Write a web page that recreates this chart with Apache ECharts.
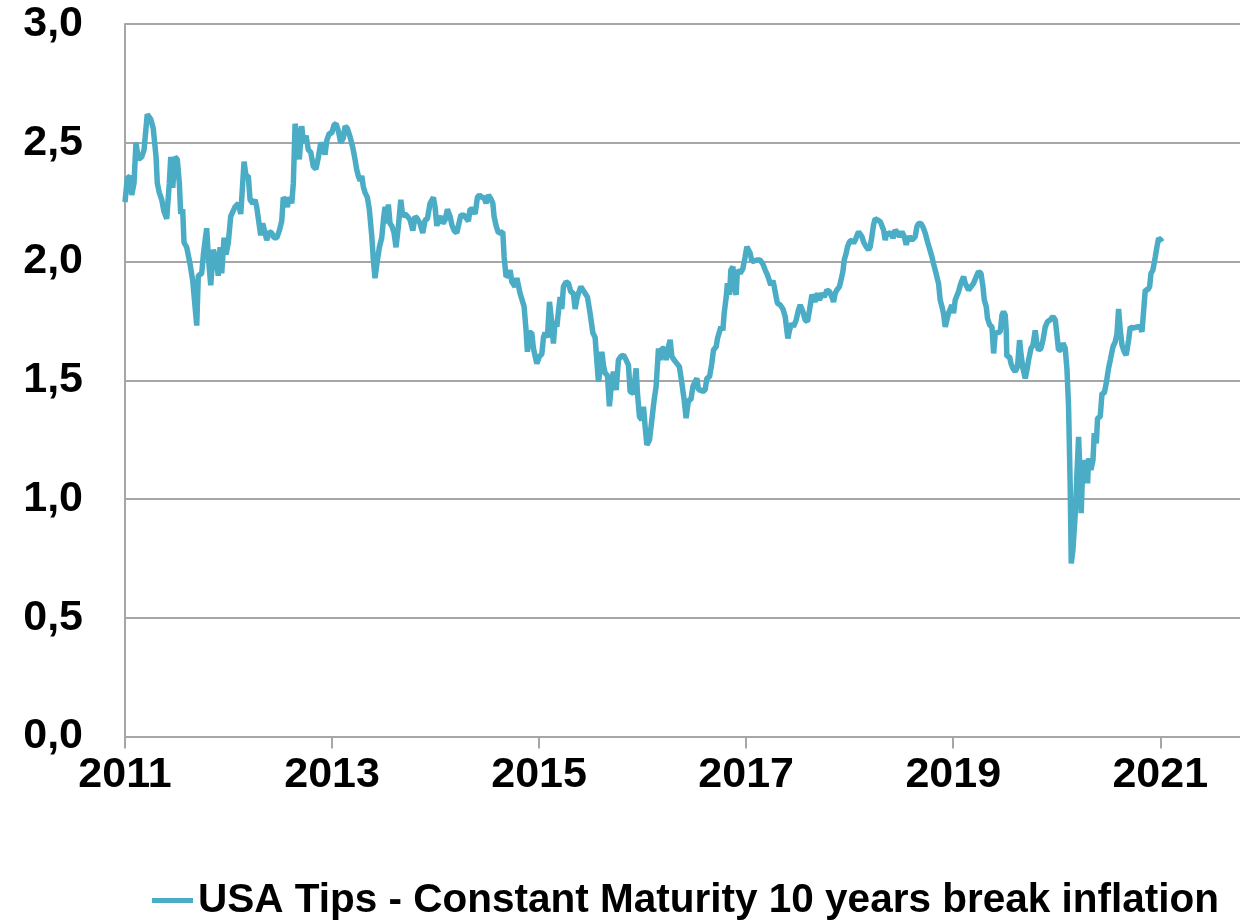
<!DOCTYPE html>
<html>
<head>
<meta charset="utf-8">
<script src="https://cdn.jsdelivr.net/npm/echarts@6/dist/echarts.min.js"></script>
<style>
  html, body { margin: 0; padding: 0; background: #fff; }
  #main { width: 1240px; height: 920px; }
</style>
</head>
<body>
<div id="main"></div>
<script>
// decimal years
var years = [
  2011.000, 2011.022, 2011.048, 2011.065, 2011.087, 2011.106, 2011.129, 2011.161, 2011.184, 2011.215,
  2011.248, 2011.273, 2011.300, 2011.312, 2011.331, 2011.355, 2011.377, 2011.403, 2011.428, 2011.442,
  2011.461, 2011.483, 2011.505, 2011.525, 2011.538, 2011.557, 2011.570, 2011.596, 2011.628, 2011.654,
  2011.693, 2011.708, 2011.741, 2011.757, 2011.789, 2011.805, 2011.828, 2011.853, 2011.879, 2011.901,
  2011.918, 2011.934, 2011.957, 2011.976, 2011.998, 2012.021, 2012.063, 2012.095, 2012.118, 2012.137,
  2012.150, 2012.169, 2012.191, 2012.208, 2012.234, 2012.256, 2012.272, 2012.298, 2012.311, 2012.330,
  2012.353, 2012.369, 2012.394, 2012.417, 2012.440, 2012.466, 2012.491, 2012.514, 2012.529, 2012.546,
  2012.568, 2012.587, 2012.611, 2012.626, 2012.643, 2012.659, 2012.684, 2012.707, 2012.723, 2012.749,
  2012.771, 2012.794, 2012.819, 2012.845, 2012.868, 2012.891, 2012.916, 2012.932, 2012.949, 2012.974,
  2012.997, 2013.019, 2013.039, 2013.061, 2013.084, 2013.109, 2013.126, 2013.148, 2013.174, 2013.200,
  2013.222, 2013.239, 2013.254, 2013.271, 2013.287, 2013.302, 2013.319, 2013.341, 2013.360, 2013.384,
  2013.399, 2013.415, 2013.438, 2013.457, 2013.480, 2013.496, 2013.512, 2013.528, 2013.544, 2013.560,
  2013.577, 2013.599, 2013.618, 2013.641, 2013.664, 2013.683, 2013.705, 2013.728, 2013.754, 2013.780,
  2013.802, 2013.824, 2013.850, 2013.876, 2013.899, 2013.921, 2013.947, 2013.979, 2013.995, 2014.012,
  2014.027, 2014.050, 2014.070, 2014.092, 2014.114, 2014.140, 2014.157, 2014.179, 2014.205, 2014.220,
  2014.244, 2014.275, 2014.301, 2014.317, 2014.333, 2014.359, 2014.382, 2014.404, 2014.423, 2014.446,
  2014.469, 2014.488, 2014.510, 2014.533, 2014.553, 2014.565, 2014.585, 2014.607, 2014.649, 2014.662,
  2014.681, 2014.703, 2014.720, 2014.736, 2014.752, 2014.768, 2014.785, 2014.800, 2014.816, 2014.833,
  2014.855, 2014.874, 2014.887, 2014.906, 2014.929, 2014.945, 2014.961, 2014.978, 2015.003, 2015.026,
  2015.042, 2015.058, 2015.080, 2015.100, 2015.123, 2015.138, 2015.155, 2015.171, 2015.187, 2015.203,
  2015.219, 2015.235, 2015.261, 2015.283, 2015.306, 2015.331, 2015.348, 2015.364, 2015.380, 2015.403,
  2015.422, 2015.444, 2015.467, 2015.493, 2015.519, 2015.541, 2015.557, 2015.573, 2015.589, 2015.606,
  2015.621, 2015.638, 2015.660, 2015.679, 2015.702, 2015.718, 2015.744, 2015.766, 2015.789, 2015.815,
  2015.841, 2015.863, 2015.879, 2015.911, 2015.937, 2015.950, 2015.969, 2015.992, 2016.008, 2016.024,
  2016.041, 2016.066, 2016.089, 2016.111, 2016.130, 2016.153, 2016.169, 2016.185, 2016.208, 2016.227,
  2016.249, 2016.266, 2016.282, 2016.304, 2016.330, 2016.355, 2016.379, 2016.401, 2016.420, 2016.443,
  2016.466, 2016.485, 2016.507, 2016.524, 2016.539, 2016.562, 2016.582, 2016.604, 2016.620, 2016.646,
  2016.668, 2016.684, 2016.710, 2016.723, 2016.742, 2016.756, 2016.775, 2016.787, 2016.807, 2016.819,
  2016.839, 2016.852, 2016.872, 2016.884, 2016.903, 2016.916, 2016.942, 2016.968, 2016.990, 2017.007,
  2017.022, 2017.039, 2017.055, 2017.103, 2017.135, 2017.161, 2017.184, 2017.206, 2017.225, 2017.238,
  2017.258, 2017.271, 2017.290, 2017.302, 2017.329, 2017.355, 2017.377, 2017.393, 2017.403, 2017.418,
  2017.441, 2017.457, 2017.483, 2017.505, 2017.522, 2017.548, 2017.570, 2017.592, 2017.612, 2017.635,
  2017.651, 2017.667, 2017.689, 2017.708, 2017.731, 2017.754, 2017.780, 2017.805, 2017.828, 2017.844,
  2017.860, 2017.876, 2017.901, 2017.915, 2017.934, 2017.947, 2017.966, 2017.979, 2017.998, 2018.021,
  2018.037, 2018.053, 2018.070, 2018.085, 2018.101, 2018.118, 2018.133, 2018.159, 2018.182, 2018.198,
  2018.214, 2018.230, 2018.246, 2018.268, 2018.295, 2018.311, 2018.327, 2018.343, 2018.359, 2018.375,
  2018.398, 2018.418, 2018.440, 2018.462, 2018.481, 2018.504, 2018.527, 2018.546, 2018.559, 2018.578,
  2018.601, 2018.617, 2018.633, 2018.649, 2018.665, 2018.688, 2018.707, 2018.729, 2018.752, 2018.771,
  2018.794, 2018.810, 2018.826, 2018.842, 2018.858, 2018.874, 2018.891, 2018.906, 2018.923, 2018.939,
  2018.954, 2018.971, 2018.987, 2019.003, 2019.019, 2019.036, 2019.051, 2019.068, 2019.084, 2019.100,
  2019.116, 2019.148, 2019.164, 2019.196, 2019.222, 2019.244, 2019.268, 2019.287, 2019.300, 2019.319,
  2019.331, 2019.352, 2019.374, 2019.390, 2019.406, 2019.422, 2019.454, 2019.471, 2019.486, 2019.502,
  2019.512, 2019.518, 2019.544, 2019.558, 2019.577, 2019.599, 2019.621, 2019.641, 2019.654, 2019.673,
  2019.696, 2019.712, 2019.728, 2019.751, 2019.770, 2019.792, 2019.809, 2019.824, 2019.847, 2019.867,
  2019.889, 2019.911, 2019.937, 2019.963, 2019.986, 2020.002, 2020.017, 2020.041, 2020.060, 2020.082,
  2020.099, 2020.114, 2020.130, 2020.140, 2020.156, 2020.179, 2020.195, 2020.211, 2020.227, 2020.236,
  2020.253, 2020.266, 2020.278, 2020.298, 2020.307, 2020.330, 2020.350, 2020.362, 2020.382, 2020.394,
  2020.420, 2020.437, 2020.459, 2020.478, 2020.500, 2020.517, 2020.543, 2020.565, 2020.582, 2020.597,
  2020.614, 2020.630, 2020.652, 2020.671, 2020.694, 2020.710, 2020.736, 2020.780, 2020.807, 2020.823,
  2020.839, 2020.855, 2020.877, 2020.897, 2020.910, 2020.929, 2020.952, 2020.968, 2020.984, 2021.007,
  2021.017
];

// 10-year breakeven inflation, %
var breakeven = [
  2.25, 2.35, 2.36, 2.28, 2.33, 2.50, 2.43, 2.44, 2.47, 2.62,
  2.60, 2.56, 2.44, 2.33, 2.29, 2.26, 2.21, 2.18, 2.33, 2.44,
  2.31, 2.44, 2.43, 2.33, 2.20, 2.22, 2.08, 2.06, 1.99, 1.92,
  1.73, 1.94, 1.95, 2.03, 2.14, 2.02, 1.90, 2.05, 2.01, 1.94,
  2.06, 1.95, 2.10, 2.03, 2.08, 2.19, 2.23, 2.245, 2.20, 2.33,
  2.42, 2.36, 2.36, 2.26, 2.245, 2.26, 2.23, 2.15, 2.11, 2.16,
  2.12, 2.09, 2.125, 2.12, 2.10, 2.10, 2.13, 2.17, 2.27, 2.26,
  2.23, 2.27, 2.245, 2.33, 2.58, 2.54, 2.43, 2.57, 2.50, 2.53,
  2.47, 2.46, 2.40, 2.39, 2.44, 2.50, 2.48, 2.45, 2.51, 2.54,
  2.54, 2.575, 2.58, 2.55, 2.50, 2.52, 2.57, 2.56, 2.525, 2.48,
  2.43, 2.385, 2.36, 2.34, 2.36, 2.315, 2.29, 2.27, 2.22, 2.105,
  2.006, 1.93, 2.006, 2.06, 2.10, 2.175, 2.23, 2.16, 2.24, 2.16,
  2.15, 2.12, 2.06, 2.15, 2.26, 2.19, 2.20, 2.19, 2.175, 2.13,
  2.19, 2.18, 2.16, 2.12, 2.175, 2.18, 2.245, 2.27, 2.23, 2.15,
  2.175, 2.19, 2.16, 2.175, 2.22, 2.19, 2.155, 2.13, 2.12, 2.15,
  2.195, 2.195, 2.18, 2.17, 2.22, 2.22, 2.20, 2.27, 2.28, 2.27,
  2.27, 2.245, 2.28, 2.265, 2.245, 2.19, 2.15, 2.12, 2.125, 2.02,
  1.936, 1.943, 1.964, 1.915, 1.92, 1.894, 1.93, 1.936, 1.866, 1.86,
  1.81, 1.71, 1.62, 1.70, 1.70, 1.634, 1.64, 1.57, 1.60, 1.61,
  1.68, 1.70, 1.68, 1.83, 1.74, 1.655, 1.75, 1.725, 1.79, 1.85,
  1.80, 1.894, 1.915, 1.908, 1.873, 1.866, 1.80, 1.84, 1.866, 1.894,
  1.887, 1.866, 1.85, 1.78, 1.70, 1.68, 1.585, 1.494, 1.54, 1.62,
  1.564, 1.53, 1.52, 1.39, 1.50, 1.536, 1.459, 1.585, 1.60, 1.606,
  1.585, 1.564, 1.452, 1.445, 1.55, 1.445, 1.347, 1.333, 1.389, 1.304,
  1.227, 1.248, 1.333, 1.417, 1.473, 1.634, 1.585, 1.634, 1.634, 1.585,
  1.641, 1.67, 1.60, 1.585, 1.571, 1.557, 1.487, 1.417, 1.34, 1.417,
  1.417, 1.473, 1.494, 1.508, 1.459, 1.459, 1.452, 1.46, 1.508, 1.515,
  1.571, 1.627, 1.641, 1.676, 1.669, 1.725, 1.71, 1.78, 1.85, 1.908,
  1.86, 1.964, 1.978, 1.894, 1.86, 1.964, 1.95, 1.97, 2.02, 2.062,
  2.07, 2.035, 2.00, 2.006, 2.006, 1.99, 1.964, 1.943, 1.95, 1.90,
  1.92, 1.894, 1.85, 1.824, 1.817, 1.80, 1.768, 1.71, 1.676, 1.71,
  1.74, 1.725, 1.754, 1.796, 1.817, 1.789, 1.754, 1.747, 1.796, 1.86,
  1.866, 1.83, 1.866, 1.838, 1.866, 1.85, 1.88, 1.873, 1.85, 1.83,
  1.866, 1.88, 1.894, 1.92, 1.957, 2.006, 2.035, 2.062, 2.083, 2.09,
  2.077, 2.09, 2.098, 2.125, 2.125, 2.105, 2.083, 2.062, 2.05, 2.062,
  2.105, 2.154, 2.18, 2.175, 2.168, 2.16, 2.133, 2.09, 2.125, 2.11,
  2.125, 2.098, 2.133, 2.12, 2.105, 2.125, 2.105, 2.07, 2.09, 2.105,
  2.09, 2.098, 2.105, 2.146, 2.16, 2.16, 2.146, 2.12, 2.083, 2.055,
  2.02, 1.99, 1.964, 1.957, 1.908, 1.838, 1.81, 1.782, 1.725, 1.719,
  1.782, 1.80, 1.817, 1.782, 1.838, 1.845, 1.873, 1.90, 1.92, 1.936,
  1.908, 1.88, 1.887, 1.908, 1.936, 1.957, 1.95, 1.894, 1.838, 1.81,
  1.761, 1.733, 1.725, 1.613, 1.698, 1.69, 1.704, 1.775, 1.789, 1.775,
  1.71, 1.60, 1.60, 1.571, 1.55, 1.536, 1.557, 1.669, 1.613, 1.55,
  1.508, 1.543, 1.585, 1.634, 1.648, 1.71, 1.648, 1.627, 1.634, 1.669,
  1.725, 1.747, 1.754, 1.768, 1.754, 1.69, 1.627, 1.627, 1.656, 1.634,
  1.543, 1.389, 1.052, 0.729, 0.785, 0.94, 1.108, 1.262, 1.08, 0.94,
  1.164, 1.08, 1.164, 1.066, 1.171, 1.122, 1.164, 1.277, 1.234, 1.34,
  1.347, 1.445, 1.445, 1.487, 1.55, 1.585, 1.641, 1.662, 1.698, 1.80,
  1.71, 1.648, 1.62, 1.606, 1.669, 1.725, 1.719, 1.725, 1.725, 1.704,
  1.71, 1.88, 1.88, 1.894, 1.95, 1.964, 2.02, 2.062, 2.098, 2.09,
  2.083
];

var yearTicks = [2011, 2013, 2015, 2017, 2019, 2021];
var seriesName = 'USA Tips - Constant Maturity 10 years break inflation';

var points = years.map(function (y, i) { return [y, breakeven[i]]; });

var gridColor = '#a6a6a6';
var chart = echarts.init(document.getElementById('main'));
chart.setOption({
  animation: false,
  grid: { left: 125, right: 0, top: 24, bottom: 183.5, containLabel: false },
  legend: {
    left: 147,
    top: 875,
    itemWidth: 41,
    itemHeight: 5,
    icon: 'rect',
    data: [seriesName],
    textStyle: { fontFamily: 'Liberation Sans', fontWeight: 'bold', fontSize: 40.5, color: '#000' }
  },
  xAxis: {
    type: 'value',
    min: 2011,
    max: 2021.77,
    interval: 2,
    axisLine: { show: true, onZero: false, lineStyle: { color: gridColor, width: 2 } },
    axisTick: { show: true, length: 12, customValues: yearTicks, lineStyle: { color: gridColor, width: 2 } },
    axisLabel: {
      customValues: yearTicks,
      margin: 17,
      fontFamily: 'Liberation Sans', fontWeight: 'bold', fontSize: 43, color: '#000',
      formatter: function (v) { return v % 1 === 0 ? String(v) : ''; }
    },
    splitLine: { show: false }
  },
  yAxis: {
    type: 'value',
    min: 0,
    max: 3,
    interval: 0.5,
    axisLine: { show: true, lineStyle: { color: gridColor, width: 2 } },
    axisTick: { show: false },
    axisLabel: {
      margin: 42,
      fontFamily: 'Liberation Sans', fontWeight: 'bold', fontSize: 43, color: '#000',
      formatter: function (v) { return v.toFixed(1).replace('.', ','); }
    },
    splitLine: { show: true, lineStyle: { color: gridColor, width: 2 } }
  },
  series: [{
    name: seriesName,
    type: 'line',
    data: points,
    showSymbol: false,
    symbol: 'none',
    color: '#4bacc6',
    lineStyle: { color: '#4bacc6', width: 5.5 }
  }]
});
</script>
</body>
</html>
